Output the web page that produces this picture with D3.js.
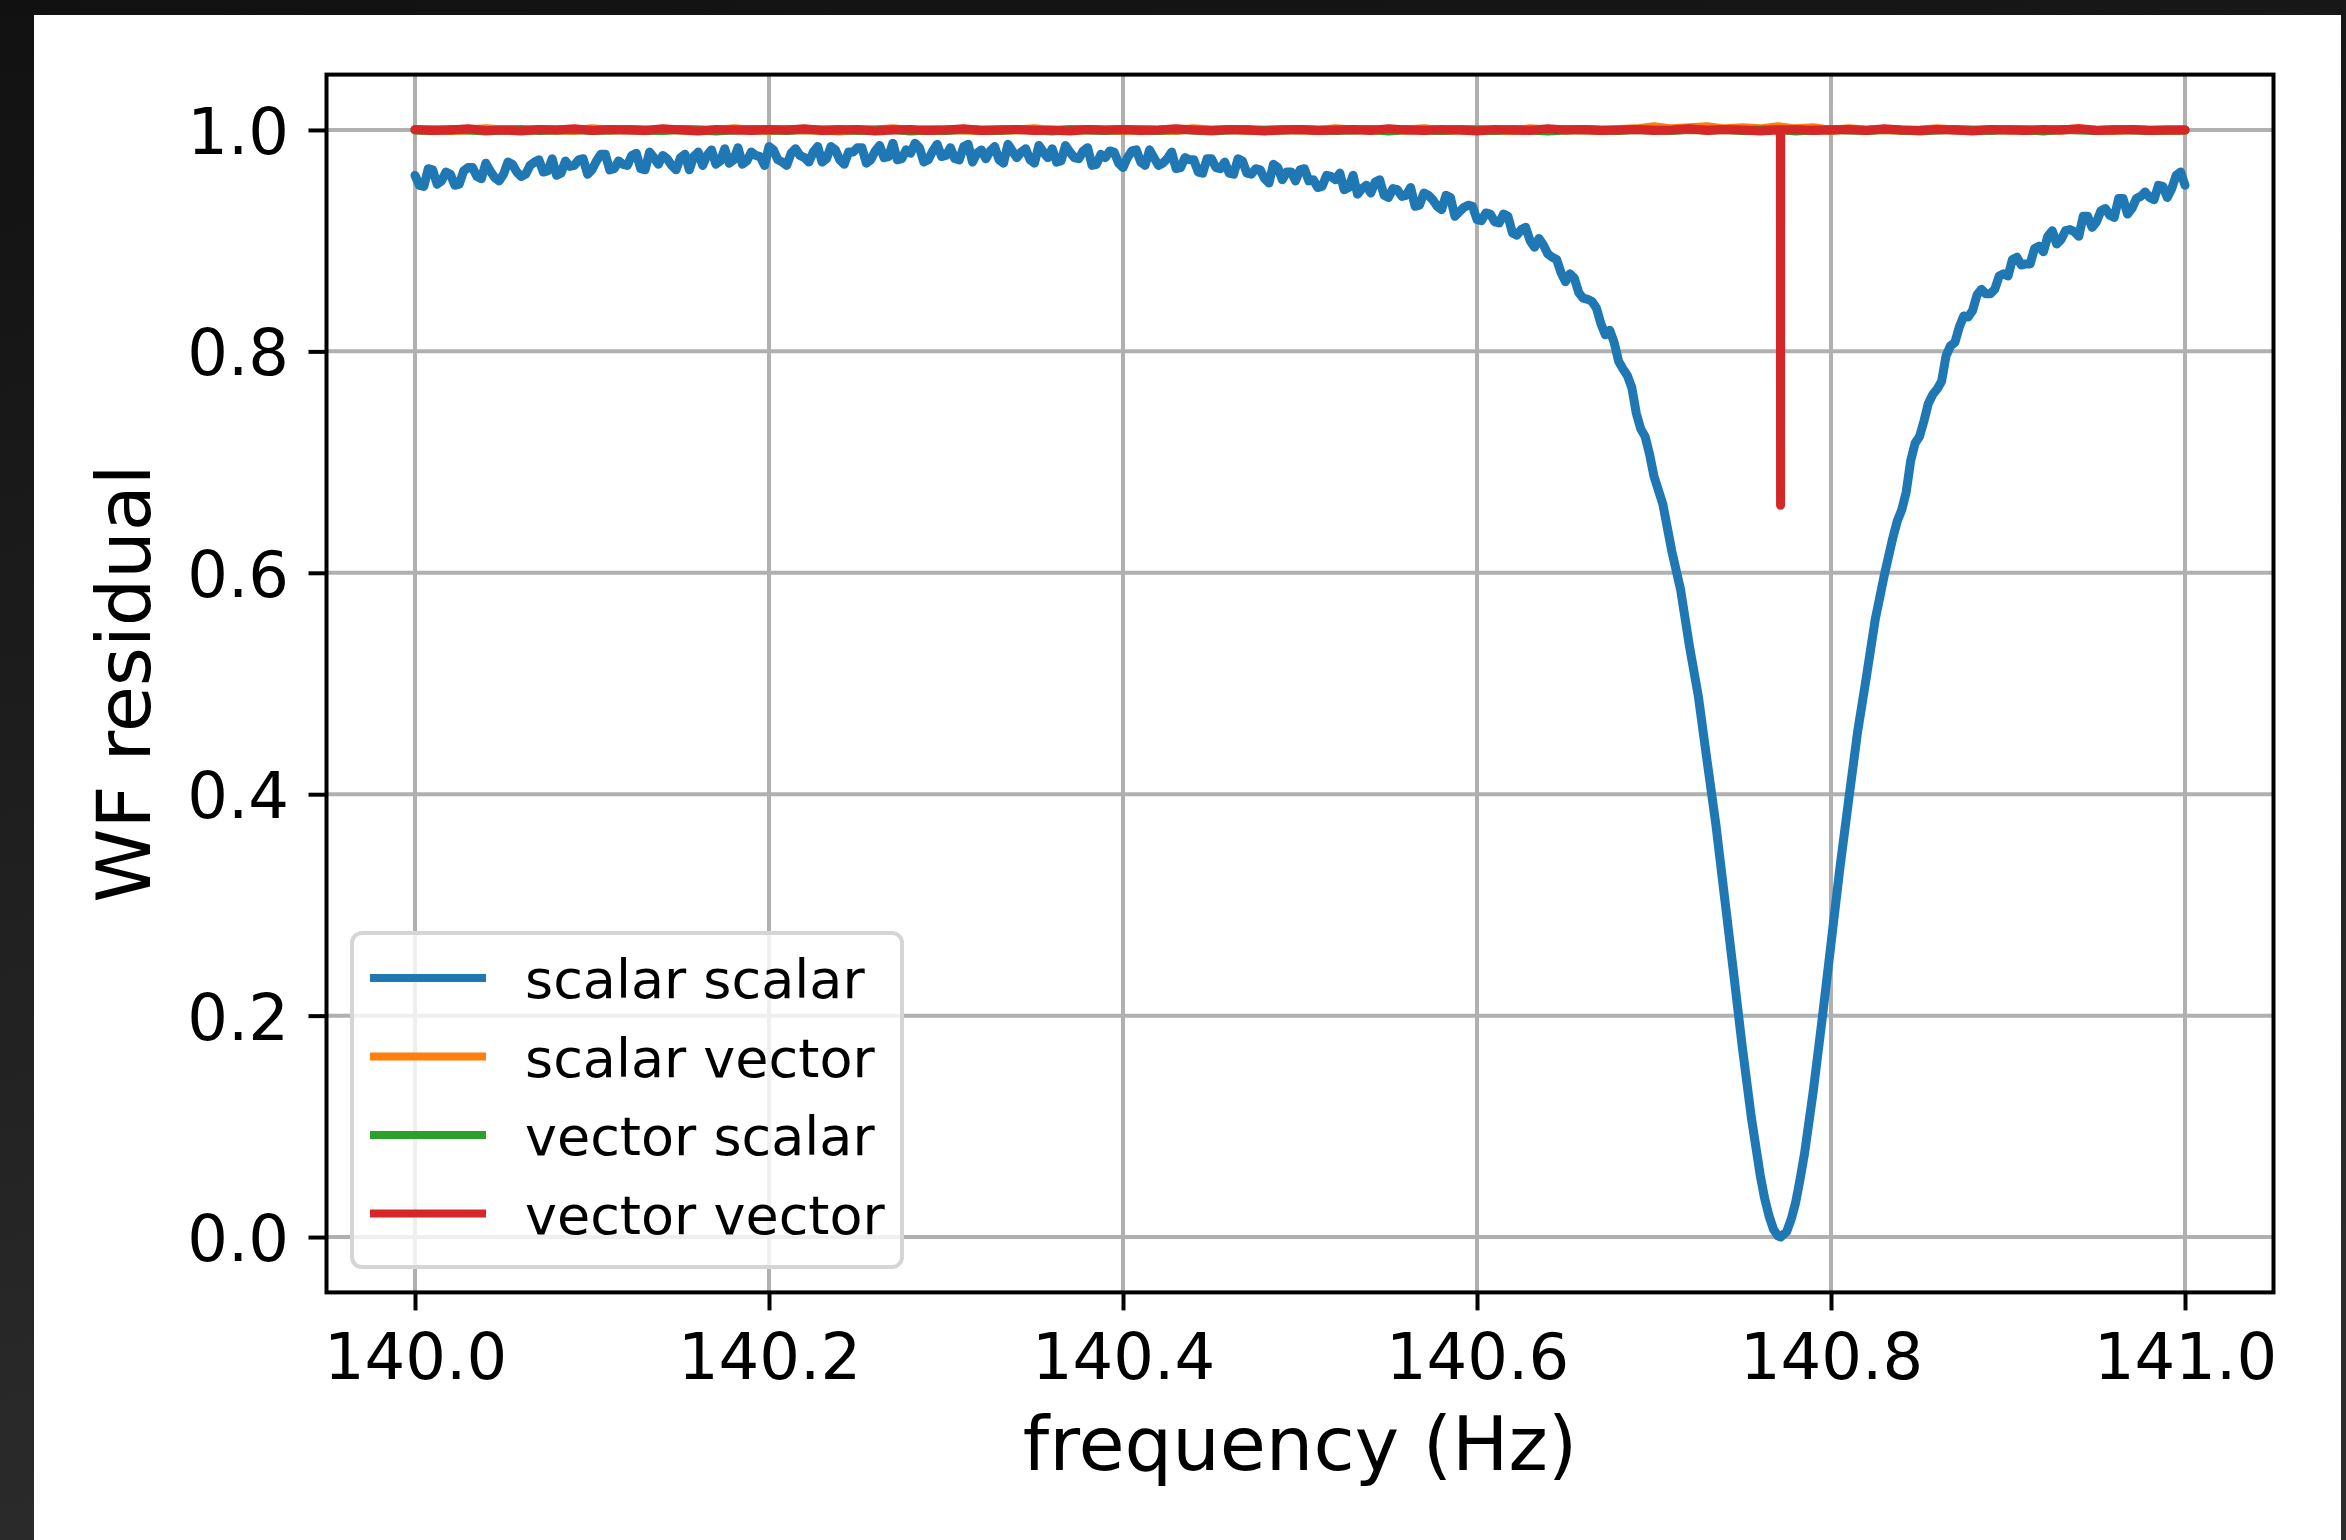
<!DOCTYPE html>
<html><head><meta charset="utf-8">
<script src="https://cdn.jsdelivr.net/npm/d3@7"></script>
<style>html,body{margin:0;padding:0;overflow:hidden;background:#161616}</style>
</head><body><svg id="c" width="2346" height="1540"></svg>
<script>
// ---------- data ----------
const seriesNames = ["scalar scalar", "scalar vector", "vector scalar", "vector vector"];
const seriesColors = ["#1f77b4", "#ff7f0e", "#2ca02c", "#d62728"];
const xTicks = [140.0, 140.2, 140.4, 140.6, 140.8, 141.0];
const yTicks = [0.0, 0.2, 0.4, 0.6, 0.8, 1.0];
const xLabel = "frequency (Hz)";
const yLabel = "WF residual";

// scalar scalar: [frequency (Hz), residual]
const scalarScalar = [
[140.0000,.959],[140.0025,.950],[140.005,.949],[140.0075,.965],[140.010,.964],[140.0125,.951],[140.015,.954],[140.0175,.962],[140.020,.960],[140.0225,.950],
[140.025,.951],[140.0275,.963],[140.030,.966],[140.0325,.966],[140.035,.958],[140.0375,.956],[140.040,.970],[140.0425,.963],[140.045,.957],[140.0475,.954],
[140.050,.960],[140.0525,.971],[140.055,.969],[140.0575,.962],[140.060,.958],[140.0625,.960],[140.065,.968],[140.0675,.971],[140.070,.973],[140.0725,.962],
[140.075,.963],[140.0775,.974],[140.080,.959],[140.0825,.961],[140.085,.972],[140.0875,.967],[140.090,.968],[140.0925,.973],[140.095,.974],[140.0975,.960],
[140.100,.964],[140.1025,.972],[140.105,.978],[140.1075,.978],[140.110,.964],[140.1125,.965],[140.115,.972],[140.1175,.969],[140.120,.968],[140.1225,.977],
[140.125,.979],[140.1275,.965],[140.130,.964],[140.1325,.980],[140.135,.975],[140.1375,.969],[140.140,.977],[140.1425,.974],[140.145,.968],[140.1475,.964],
[140.150,.975],[140.1525,.978],[140.155,.964],[140.1575,.976],[140.160,.980],[140.1625,.968],[140.165,.977],[140.1675,.982],[140.170,.969],[140.1725,.972],
[140.175,.983],[140.1775,.970],[140.180,.973],[140.1825,.984],[140.185,.969],[140.1875,.972],[140.190,.980],[140.1925,.977],[140.195,.976],[140.1975,.968],
[140.200,.985],[140.2025,.982],[140.205,.973],[140.2075,.971],[140.210,.968],[140.2125,.979],[140.215,.983],[140.2175,.977],[140.220,.975],[140.2225,.971],
[140.225,.980],[140.2275,.985],[140.230,.971],[140.2325,.974],[140.235,.985],[140.2375,.982],[140.240,.973],[140.2425,.969],[140.245,.980],[140.2475,.980],
[140.250,.984],[140.2525,.984],[140.255,.970],[140.2575,.973],[140.260,.981],[140.2625,.986],[140.265,.975],[140.2675,.976],[140.270,.988],[140.2725,.973],
[140.275,.974],[140.2775,.982],[140.280,.979],[140.2825,.988],[140.285,.984],[140.2875,.971],[140.290,.973],[140.2925,.981],[140.295,.987],[140.2975,.976],
[140.300,.977],[140.3025,.984],[140.305,.974],[140.3075,.973],[140.310,.985],[140.3125,.987],[140.315,.971],[140.3175,.979],[140.320,.982],[140.3225,.974],
[140.325,.981],[140.3275,.985],[140.330,.973],[140.3325,.970],[140.335,.987],[140.3375,.981],[140.340,.975],[140.3425,.980],[140.345,.983],[140.3475,.973],
[140.350,.970],[140.3525,.986],[140.355,.980],[140.3575,.975],[140.360,.983],[140.3625,.971],[140.365,.972],[140.3675,.986],[140.370,.980],[140.3725,.975],
[140.375,.974],[140.3775,.981],[140.380,.984],[140.3825,.968],[140.385,.969],[140.3875,.978],[140.390,.975],[140.3925,.981],[140.395,.980],[140.3975,.970],
[140.400,.966],[140.4025,.975],[140.405,.981],[140.4075,.982],[140.410,.971],[140.4125,.968],[140.415,.982],[140.4175,.975],[140.420,.968],[140.4225,.970],
[140.425,.974],[140.4275,.980],[140.430,.965],[140.4325,.966],[140.435,.975],[140.4375,.973],[140.440,.973],[140.4425,.962],[140.445,.961],[140.4475,.974],
[140.450,.974],[140.4525,.966],[140.455,.965],[140.4575,.971],[140.460,.961],[140.4625,.960],[140.465,.974],[140.4675,.972],[140.470,.961],[140.4725,.960],
[140.475,.965],[140.4775,.964],[140.480,.956],[140.4825,.952],[140.485,.969],[140.4875,.966],[140.490,.955],[140.4925,.962],[140.495,.962],[140.4975,.954],
[140.500,.964],[140.5025,.965],[140.505,.954],[140.5075,.955],[140.510,.948],[140.5125,.949],[140.515,.959],[140.5175,.958],[140.520,.955],[140.5225,.961],
[140.525,.946],[140.5275,.948],[140.530,.959],[140.5325,.942],[140.535,.947],[140.5375,.950],[140.540,.943],[140.5425,.953],[140.545,.955],[140.5475,.941],
[140.550,.939],[140.5525,.947],[140.555,.946],[140.5575,.940],[140.560,.941],[140.5625,.948],[140.565,.931],[140.5675,.932],[140.570,.943],[140.5725,.941],
[140.575,.937],[140.5775,.931],[140.580,.928],[140.5825,.941],[140.585,.939],[140.5875,.922],[140.590,.926],[140.5925,.930],[140.595,.932],[140.5975,.931],
[140.600,.919],[140.6025,.918],[140.605,.925],[140.6075,.924],[140.610,.917],[140.6125,.916],[140.615,.924],[140.6175,.922],[140.620,.907],[140.6225,.905],
[140.625,.910],[140.6275,.912],[140.630,.900],[140.6325,.894],[140.635,.902],[140.6375,.896],[140.640,.888],[140.6425,.885],[140.645,.883],[140.6475,.871],
[140.650,.863],[140.6525,.870],[140.655,.866],[140.6575,.853],[140.660,.848],[140.6625,.847],[140.665,.845],[140.6675,.839],[140.670,.825],[140.6725,.815],
[140.675,.819],[140.6775,.808],[140.680,.791],[140.6825,.784],[140.685,.778],[140.6875,.767],[140.690,.744],[140.6925,.730],[140.695,.723],[140.6975,.707],
[140.700,.687],[140.705,.662],[140.710,.620],[140.715,.585],[140.720,.534],[140.725,.489],[140.730,.430],[140.735,.372],[140.740,.305],[140.745,.238],
[140.750,.170],[140.755,.108],[140.760,.056],[140.7625,.035],[140.765,.019],[140.7675,.007],[140.770,.001],[140.7715,.000],[140.775,.005],[140.7775,.016],
[140.780,.031],[140.7825,.052],[140.785,.075],[140.790,.132],[140.795,.197],[140.800,.265],[140.805,.333],[140.810,.395],[140.815,.456],[140.820,.506],
[140.825,.558],[140.830,.597],[140.835,.632],[140.8375,.647],[140.840,.657],[140.8425,.673],[140.845,.701],[140.8475,.717],[140.850,.723],[140.8525,.737],
[140.855,.753],[140.8575,.761],[140.860,.766],[140.8625,.773],[140.865,.796],[140.8675,.805],[140.870,.808],[140.8725,.822],[140.875,.832],[140.8775,.831],
[140.880,.837],[140.8825,.851],[140.885,.856],[140.8875,.852],[140.890,.852],[140.8925,.856],[140.895,.868],[140.8975,.870],[140.900,.868],[140.9025,.883],
[140.905,.885],[140.9075,.878],[140.910,.879],[140.9125,.879],[140.915,.893],[140.9175,.895],[140.920,.890],[140.9225,.904],[140.925,.909],[140.9275,.897],
[140.930,.901],[140.9325,.909],[140.935,.910],[140.9375,.908],[140.940,.904],[140.9425,.922],[140.945,.922],[140.9475,.912],[140.950,.917],[140.9525,.927],
[140.955,.929],[140.9575,.923],[140.960,.921],[140.9625,.938],[140.965,.938],[140.9675,.924],[140.970,.929],[140.9725,.938],[140.975,.940],[140.9775,.944],
[140.980,.939],[140.9825,.937],[140.985,.950],[140.9875,.949],[140.990,.939],[140.9925,.947],[140.995,.959],[140.9975,.962],[141.000,.950]
];

// shared frequency grid for the three flat series
const coarseFreq = [
140.00,140.01,140.02,140.03,140.04,140.05,140.06,140.07,140.08,140.09,
140.10,140.11,140.12,140.13,140.14,140.15,140.16,140.17,140.18,140.19,
140.20,140.21,140.22,140.23,140.24,140.25,140.26,140.27,140.28,140.29,
140.30,140.31,140.32,140.33,140.34,140.35,140.36,140.37,140.38,140.39,
140.40,140.41,140.42,140.43,140.44,140.45,140.46,140.47,140.48,140.49,
140.50,140.51,140.52,140.53,140.54,140.55,140.56,140.57,140.58,140.59,
140.60,140.61,140.62,140.63,140.64,140.65,140.66,140.67,140.68,140.69,
140.70,140.71,140.72,140.73,140.74,140.75,140.76,140.77,140.78,140.79,
140.80,140.81,140.82,140.83,140.84,140.85,140.86,140.87,140.88,140.89,
140.90,140.91,140.92,140.93,140.94,140.95,140.96,140.97,140.98,140.99,
141.00];

const scalarVector = [
1.000,1.0005,0.9995,1.000,1.001,1.000,0.9995,1.0005,1.000,0.9995,
1.001,1.000,1.0005,0.9995,1.000,1.0005,1.000,0.9995,1.001,1.000,
0.9995,1.0005,1.000,1.000,0.999,1.0005,1.000,1.001,0.9995,1.000,
1.0005,1.000,0.9995,1.0005,1.000,1.001,0.9995,1.000,1.0005,1.000,
0.9995,1.0005,1.000,0.9995,1.001,1.000,1.0005,0.9995,1.000,1.0005,
1.000,0.9995,1.001,1.000,1.0005,0.9995,1.000,1.001,0.9995,1.000,
1.0005,1.000,0.9995,1.001,1.000,1.0005,1.000,0.9995,1.0005,1.001,
1.003,1.001,1.002,1.003,1.001,1.002,1.001,1.003,1.001,1.002,
0.9995,1.001,1.000,1.0005,0.9995,1.000,1.001,1.000,0.9995,1.0005,
1.000,1.0005,0.9995,1.000,1.001,1.000,0.9995,1.0005,1.000,0.9995,
1.000];

const vectorScalar = [
1.000,0.9995,1.0005,1.000,0.999,1.000,1.0005,0.9995,1.000,1.0005,
0.9995,1.000,1.0005,1.000,0.9995,1.0005,1.000,0.999,1.000,1.0005,
1.000,0.9995,1.0005,1.000,1.0005,0.9995,1.000,1.0005,0.999,1.000,
0.9995,1.0005,1.000,0.9995,1.0005,1.000,0.999,1.0005,1.000,0.9995,
1.0005,1.000,0.9995,1.0005,1.000,0.999,1.000,1.0005,0.9995,1.000,
1.0005,1.000,0.9995,1.000,1.0005,0.999,1.0005,1.000,0.9995,1.0005,
1.000,0.9995,1.0005,1.000,0.999,1.000,1.0005,1.000,0.9995,1.0005,
1.000,0.9995,1.0005,1.000,1.0005,0.9995,1.000,1.0005,0.999,1.000,
1.0005,1.000,0.9995,1.0005,1.000,0.999,1.000,1.0005,1.000,0.9995,
1.0005,1.000,0.999,1.0005,1.000,0.9995,1.0005,1.000,0.9995,1.000,
1.000];

const vectorVector = [
1.0005,0.9995,1.000,1.001,0.9995,1.000,0.999,1.0005,1.000,1.001,
0.9995,1.0005,1.000,0.9995,1.001,1.000,0.999,1.0005,1.000,0.9995,
1.0005,1.000,1.001,0.9995,1.000,1.0005,0.999,1.000,1.0005,0.9995,
1.000,1.001,0.9995,1.000,1.0005,0.9995,1.000,0.999,1.0005,1.000,
1.0005,0.9995,1.000,1.001,1.000,0.9995,1.0005,1.000,0.999,1.000,
1.0005,0.9995,1.000,1.0005,0.9995,1.001,1.000,0.9995,1.0005,1.000,
0.999,1.0005,1.000,0.9995,1.001,1.000,1.0005,0.9995,1.000,1.0005,
0.9995,1.000,1.001,0.9995,1.0005,1.000,0.999,1.000,1.0005,0.9995,
1.000,1.0005,0.9995,1.001,1.000,0.9995,1.0005,1.000,0.999,1.0005,
1.000,0.9995,1.0005,1.000,1.001,0.9995,1.000,1.0005,0.9995,1.000,
1.000];
// single-sample dip of the vector-vector residual
const vectorVectorSpike = [[140.7714, 1.000], [140.7715, 0.661], [140.7716, 1.000]];

// ---------- drawing ----------
const W = 2346, H = 1540;
const svg = d3.select("#c");
const FONT = "DejaVu Sans";

const defs = svg.append("defs");
const grad = defs.append("linearGradient").attr("id", "bg")
  .attr("x1", 0).attr("y1", 0).attr("x2", 0.25).attr("y2", 1);
grad.append("stop").attr("offset", "0%").attr("stop-color", "#111111");
grad.append("stop").attr("offset", "100%").attr("stop-color", "#2c2c2c");
svg.append("rect").attr("width", W).attr("height", H).attr("fill", "url(#bg)");
svg.append("rect").attr("x", 34).attr("y", 15).attr("width", 2341 - 34).attr("height", H - 15).attr("fill", "#ffffff");

const L = 326.5, R = 2273.5, T = 74.6, B = 1292.4;
const x = d3.scaleLinear().domain([139.95, 141.05]).range([L, R]);
const y = d3.scaleLinear().domain([-0.05, 1.05]).range([B, T]);

// grid
const grid = svg.append("g").attr("stroke", "#b0b0b0").attr("stroke-width", 4);
grid.selectAll(".gx").data(xTicks).join("line")
  .attr("x1", d => x(d)).attr("x2", d => x(d)).attr("y1", T).attr("y2", B);
grid.selectAll(".gy").data(yTicks).join("line")
  .attr("y1", d => y(d)).attr("y2", d => y(d)).attr("x1", L).attr("x2", R);

// series
const line = d3.line().x(d => x(d[0])).y(d => y(d[1]));
const pairs = vals => coarseFreq.map((f, i) => [f, vals[i]]);
const redPts = pairs(vectorVector).concat(vectorVectorSpike).sort((a, b) => a[0] - b[0]);
const seriesData = [scalarScalar, pairs(scalarVector), pairs(vectorScalar), redPts];
const lines = svg.append("g");
seriesData.forEach((pts, i) => {
  lines.append("path").attr("d", line(pts))
    .attr("fill", "none").attr("stroke", seriesColors[i])
    .attr("stroke-width", 9).attr("stroke-linejoin", "round").attr("stroke-linecap", "round");
});

// spines
svg.append("rect").attr("x", L).attr("y", T).attr("width", R - L).attr("height", B - T)
  .attr("fill", "none").attr("stroke", "#000").attr("stroke-width", 4);

// axes
const gx = svg.append("g").attr("transform", `translate(0,${B})`)
  .call(d3.axisBottom(x).tickValues(xTicks).tickFormat(d3.format(".1f")).tickSizeInner(18).tickSizeOuter(0));
gx.select(".domain").remove();
gx.attr("font-family", FONT).attr("font-size", 64);
gx.selectAll(".tick line").attr("stroke", "#000").attr("stroke-width", 4);
gx.selectAll(".tick text").attr("fill", "#000").attr("y", 1379 - B).attr("dy", null);

const gy = svg.append("g").attr("transform", `translate(${L},0)`)
  .call(d3.axisLeft(y).tickValues(yTicks).tickFormat(d3.format(".1f")).tickSizeInner(18).tickSizeOuter(0));
gy.select(".domain").remove();
gy.attr("font-family", FONT).attr("font-size", 64);
gy.selectAll(".tick line").attr("stroke", "#000").attr("stroke-width", 4);
gy.selectAll(".tick text").attr("fill", "#000").attr("x", -(L - 289)).attr("y", 23.5).attr("dy", null);

// axis labels
svg.append("text").attr("x", (L + R) / 2).attr("y", 1470).attr("text-anchor", "middle")
  .attr("font-family", FONT).attr("font-size", 75).attr("fill", "#000").text(xLabel);
svg.append("text").attr("transform", `translate(150,${(T + B) / 2}) rotate(-90)`).attr("text-anchor", "middle")
  .attr("font-family", FONT).attr("font-size", 75).attr("fill", "#000").text(yLabel);

// legend
const lg = svg.append("g");
lg.append("rect").attr("x", 352).attr("y", 933).attr("width", 550).attr("height", 334).attr("rx", 10)
  .attr("fill", "#ffffff").attr("fill-opacity", 0.8).attr("stroke", "#d5d5d5").attr("stroke-width", 4);
seriesNames.forEach((name, i) => {
  const ly = 978 + i * 78.5;
  lg.append("line").attr("x1", 370).attr("x2", 486).attr("y1", ly).attr("y2", ly)
    .attr("stroke", seriesColors[i]).attr("stroke-width", 8);
  lg.append("text").attr("x", 525).attr("y", ly + 20)
    .attr("font-family", FONT).attr("font-size", 54).attr("fill", "#000").text(name);
});
</script>
</body></html>
